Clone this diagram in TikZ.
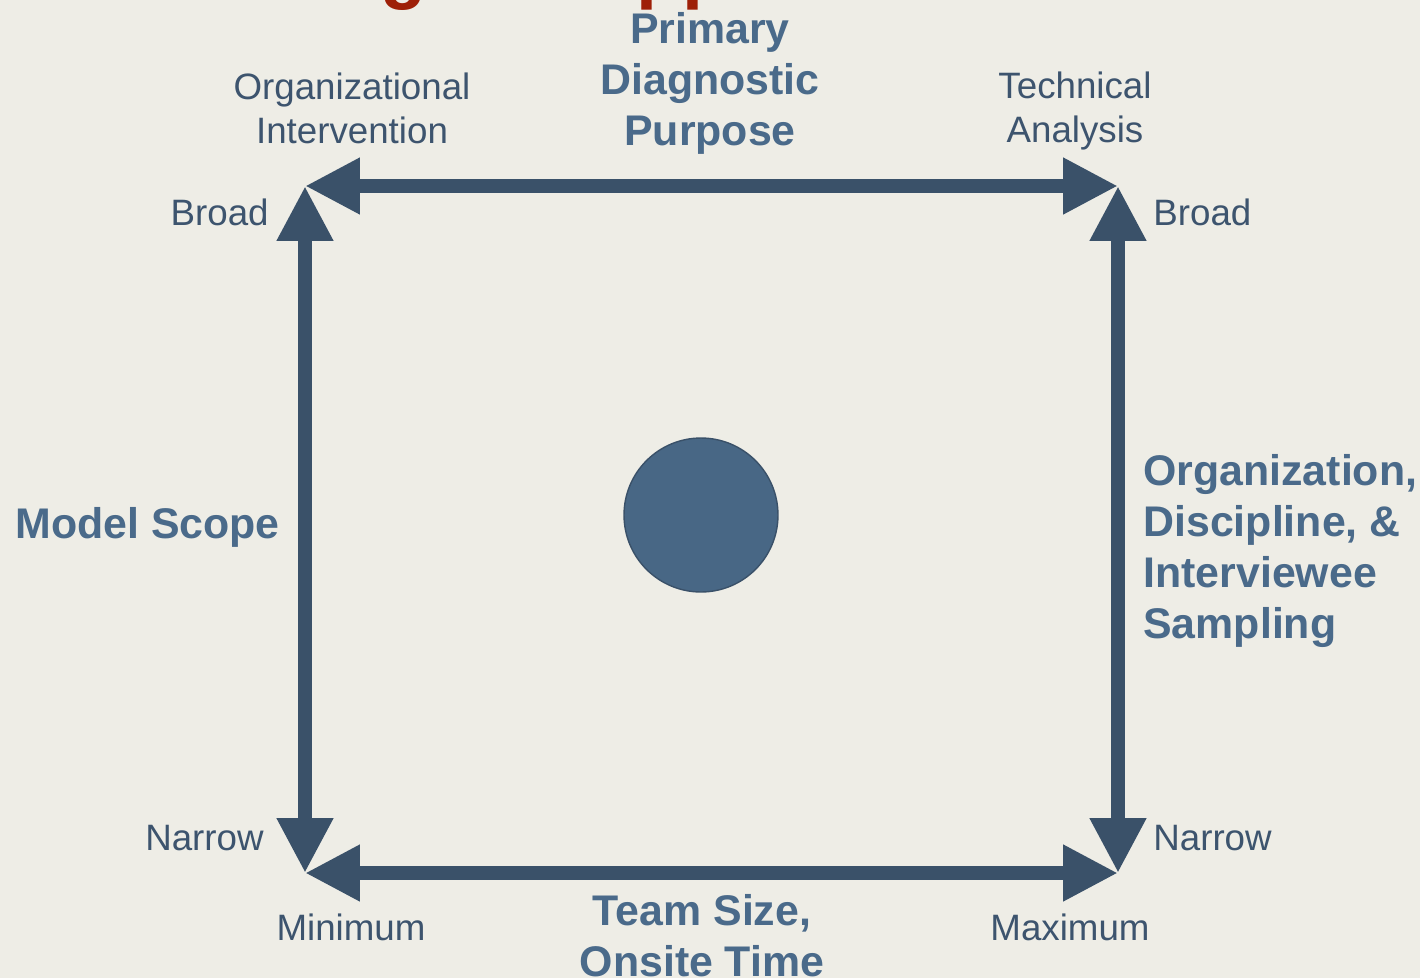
\documentclass[tikz,border=0pt]{standalone}
\usepackage{fontspec}
\setmainfont{Liberation Sans}
\usetikzlibrary{arrows.meta}
\definecolor{paper}{RGB}{238,237,230}
\definecolor{axisblue}{RGB}{58,81,105}
\definecolor{headblue}{RGB}{74,106,138}
\definecolor{tagblue}{RGB}{61,84,110}
\definecolor{dotblue}{RGB}{72,103,133}
\definecolor{titlered}{RGB}{158,32,8}
\begin{document}
\begin{tikzpicture}[x=0.02cm,y=-0.02cm,
  axis/.style={line width=0.28cm,axisblue,{Triangle[length=1.1cm,width=1.06cm]}-{Triangle[length=1.1cm,width=1.06cm]}},
  tag/.style={inner sep=0,text=tagblue,font=\fontsize{20.9pt}{25pt}\selectfont,align=center},
  head/.style={inner sep=0,text=headblue,font=\fontsize{24.4pt}{29pt}\selectfont\bfseries,align=center}]

\fill[paper] (0,0) rectangle (1420,978);
\useasboundingbox (0,0) rectangle (1420,978);

\begin{scope}
\clip (0,0) rectangle (1420,978);
\node[anchor=base west,inner sep=0,text=titlered,font=\fontsize{43pt}{50pt}\selectfont\bfseries] (title) at (113,-6) {Tailoring the Approach};
\end{scope}

\coordinate (tl) at (305,186);
\coordinate (tr) at (1118,186);
\coordinate (bl) at (305,873);
\coordinate (br) at (1118,873);

\draw[axis] (tl) -- (tr);
\draw[axis] (bl) -- (br);
\draw[axis] (tl) -- (bl);
\draw[axis] (tr) -- (br);

\node[circle,fill=dotblue,draw=axisblue,line width=0.8pt,minimum size=3.08cm,inner sep=0] (hub) at (701,515) {};

\node[tag] (orgint) at (352,108) {Organizational\\Intervention};
\node[tag] (techan) at (1075,111) {Technical\\Analysis};
\node[head] (purpose) at (710,83) {Primary\\Diagnostic\\Purpose};

\node[tag,anchor=east] (broadl) at (269,212) {Broad};
\node[tag,anchor=west] (broadr) at (1153,212) {Broad};
\node[tag,anchor=east] (narrowl) at (264,838) {Narrow};
\node[tag,anchor=west] (narrowr) at (1153,838) {Narrow};

\node[tag] (minimum) at (351,927) {Minimum};
\node[tag] (maximum) at (1070,927) {Maximum};
\node[head] (team) at (702,936) {Team Size,\\Onsite Time};

\node[head,anchor=west] (scope) at (15,527) {Model Scope};
\node[head,anchor=west,align=left] (sampling) at (1143,551) {Organization,\\Discipline, \&\\Interviewee\\Sampling};

\end{tikzpicture}
\end{document}
